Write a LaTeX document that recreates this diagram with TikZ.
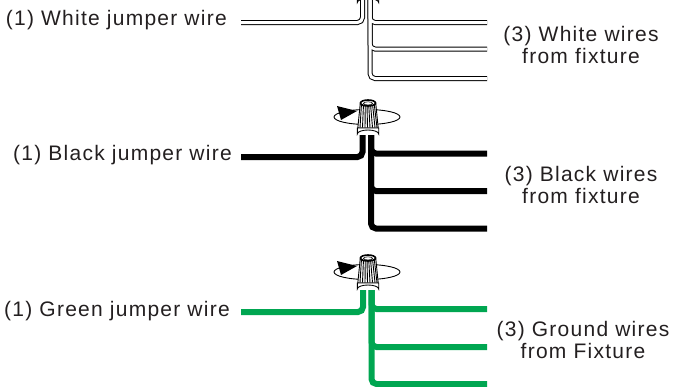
\documentclass[tikz,border=0pt]{standalone}
\usepackage{fontspec}
\setmainfont[LetterSpace=6]{Liberation Sans}
\definecolor{wgreen}{HTML}{00A651}
\definecolor{txtgray}{HTML}{231F20}
\newcommand\wirenut[1]{%
  % #1 = y of the ellipse centre
  \begin{scope}[shift={(0,#1)}]
    \draw[line width=0.9] (367,0) ellipse [x radius=33, y radius=7.5];
    \fill (337,-11) -- (357,-6) -- (341,3) -- cycle;
    % body (tapered cone)
    \filldraw[fill=white,line width=0.9] (360.3,-14) -- (357.8,11) -- (378.2,11) -- (375.7,-14) -- cycle;
    \foreach \a/\b in {361.5/360,363.5/362.5,365.3/365,367/367.5,368.7/370,370.5/372.5,372.5/375,374.2/377}
      \draw[line width=0.9] (\a,-13) -- (\b,10.5);
    % skirt
    \filldraw[fill=white,line width=0.9] (357.3,11) -- (357.3,17) arc[start angle=180,end angle=360,x radius=10.7,y radius=4] -- (378.7,11) -- cycle;
    % top
    \filldraw[fill=white,line width=1.6] (368,-14) ellipse [x radius=7.5, y radius=3];
    \draw[line width=0.6] (368,-13.6) ellipse [x radius=4.6, y radius=1.6];
  \end{scope}}
\tikzset{
  lbl/.style={font=\fontsize{21}{22}\selectfont, text=txtgray, inner sep=0pt, align=center},
  wout/.style={line width=5, rounded corners=5, black},
  win/.style={line width=3, rounded corners=5, white},
  bwire/.style={line width=6, rounded corners=5, black},
  gwire/.style={line width=6, rounded corners=5, wgreen},
}
\begin{document}
\begin{tikzpicture}[x=1pt,y=-1pt]
\useasboundingbox (0,0) rectangle (678,386);
\clip (0,0) rectangle (678,386);
% ---- white group
\coordinate (wj) at (241,22.5);
\coordinate (wa) at (487,22.5);
\coordinate (wb) at (487,49);
\coordinate (wc) at (487,78.5);
\foreach \s in {wout,win}{
  \draw[\s] (wj) -- (362.5,22.5) -- (362.5,0);
  \draw[\s] (370,0) -- (370,22.5) -- (wa);
  \draw[\s] (370,0) -- (370,49) -- (wb);
  \draw[\s] (370,0) -- (370,78.5) -- (wc);
}
\wirenut{-14.5}
\node[lbl, anchor=east] (wjl) at (227,20) {(1) White jumper wire};
\node[lbl] (wfl) at (581,45) {(3) White wires\\from fixture};
% ---- black group
\coordinate (bj) at (241,157);
\coordinate (ba) at (487,153.5);
\coordinate (bb) at (487,191);
\coordinate (bc) at (487,228.5);
\draw[bwire] (bj) -- (362.5,157) -- (362.5,135);
\draw[bwire] (371,135) -- (371,153.5) -- (ba);
\draw[bwire] (371,135) -- (371,191) -- (bb);
\draw[bwire] (371,135) -- (371,228.5) -- (bc);
\wirenut{117}
\node[lbl, anchor=east] (bjl) at (232,155) {(1) Black jumper wire};
\node[lbl] (bfl) at (581,185) {(3) Black wires\\from fixture};
% ---- green group
\coordinate (gj) at (241,312);
\coordinate (ga) at (487,309);
\coordinate (gb) at (487,347);
\coordinate (gc) at (487,384);
\draw[gwire] (gj) -- (363,312) -- (363,290);
\draw[gwire] (371.5,290) -- (371.5,309) -- (ga);
\draw[gwire] (371.5,290) -- (371.5,347) -- (gb);
\draw[gwire] (371.5,290) -- (371.5,384) -- (gc);
\wirenut{272}
\node[lbl, anchor=east] (gjl) at (230,311) {(1) Green jumper wire};
\node[lbl] (gfl) at (583,340) {(3) Ground wires\\from Fixture};
\end{tikzpicture}
\end{document}
